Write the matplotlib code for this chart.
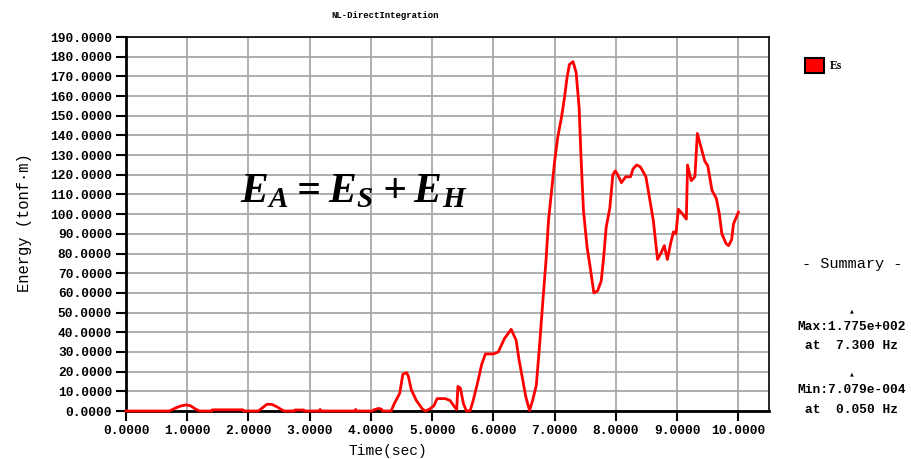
import matplotlib
matplotlib.use('Agg')
import matplotlib.pyplot as plt
from matplotlib.patches import Patch
import numpy as np

# values
time = [0.00, 0.70, 0.75, 0.80, 0.90, 0.98, 1.05, 1.14, 1.20, 1.40, 1.41, 1.91, 1.92,
        2.16, 2.22, 2.30, 2.38, 2.46, 2.55, 2.58, 2.75, 2.76, 2.90, 2.91, 3.16, 3.17,
        3.18, 3.74, 3.75, 3.76, 4.02, 4.05, 4.12, 4.17, 4.19, 4.33, 4.38, 4.47, 4.52,
        4.58, 4.61, 4.66, 4.74, 4.84, 4.89, 4.96, 5.03, 5.08, 5.21, 5.29, 5.37, 5.40,
        5.42, 5.46, 5.51, 5.56, 5.62, 5.67, 5.74, 5.81, 5.87, 6.00, 6.08, 6.18, 6.29,
        6.37, 6.42, 6.48, 6.53, 6.59, 6.64, 6.70, 6.75, 6.81, 6.86, 6.90, 6.95, 7.00,
        7.05, 7.11, 7.16, 7.20, 7.24, 7.30, 7.35, 7.40, 7.43, 7.47, 7.53, 7.58, 7.64,
        7.70, 7.76, 7.80, 7.84, 7.90, 7.95, 7.99, 8.03, 8.09, 8.16, 8.24, 8.28, 8.34,
        8.40, 8.49, 8.55, 8.61, 8.68, 8.74, 8.79, 8.84, 8.90, 8.94, 8.98, 9.02, 9.09,
        9.15, 9.16, 9.17, 9.23, 9.29, 9.33, 9.39, 9.45, 9.50, 9.57, 9.64, 9.69, 9.73,
        9.80, 9.84, 9.89, 9.92, 10.00]
energy = [0, 0, 0.6, 1.4, 2.6, 3.1, 2.7, 0.9, 0, 0, 0.6, 0.6, 0,
          0, 1.4, 3.4, 3.4, 2.2, 0.5, 0, 0, 0.5, 0.5, 0, 0, 0.8,
          0, 0, 0.8, 0, 0, 0.6, 1.3, 1.0, 0, 0, 3.7, 9, 18.6,
          19.5, 17.7, 10.7, 5.4, 1.0, 0, 1.0, 2.8, 6.3, 6.3, 5.4, 1.9, 0.7,
          12.5, 11.6, 3.7, 0, 0.2, 5.4, 14.2, 23.9, 29, 29, 30, 36.8, 41.5,
          36, 25.8, 15.6, 7, 0.3, 5.4, 13, 32, 57, 77, 97, 112, 127,
          139, 149, 159, 169, 176, 177.5, 172, 154, 129, 102, 83, 73, 60,
          61, 66, 78, 93, 103, 120, 122, 120, 116, 119, 119, 123, 125,
          124, 119, 108, 97, 77, 80.5, 84, 77, 86, 91, 90, 102.5, 100,
          97.5, 112, 125, 117, 119, 141, 134, 127, 124.6, 112, 108, 100, 90,
          85, 84, 87, 95, 101]

x_ticks = list(range(0, 11))
y_ticks = list(range(0, 200, 10))

mono = 'Liberation Mono'
plt.rcParams['mathtext.fontset'] = 'custom'
plt.rcParams['mathtext.bf'] = 'Liberation Serif:italic:bold'
plt.rcParams['mathtext.rm'] = 'Liberation Serif:bold'

fig = plt.figure(figsize=(9.12, 4.59), dpi=100)
ax = fig.add_axes([126 / 912, 1 - 411 / 459, (769 - 126) / 912, (411 - 37) / 459])

ax.plot(time, energy, color='#ff0000', lw=2, zorder=3, clip_on=False)

ax.set_xlim(0, 10.5)
ax.set_ylim(0, 190)
ax.set_xticks(x_ticks)
ax.set_yticks(y_ticks)
ax.set_xticklabels(['%.4f' % v for v in x_ticks], fontfamily=mono, fontsize=9.3, fontweight='bold')
ax.set_yticklabels(['%.4f' % v for v in y_ticks], fontfamily=mono, fontsize=9.3, fontweight='bold')
ax.tick_params(direction='out', length=7, width=1.5, color='black', pad=3)
ax.grid(True, color='#a8a8a8', lw=1.3, zorder=0)
ax.set_axisbelow(True)
for s in ax.spines.values():
    s.set_color('black')
    s.set_linewidth(1.2)
ax.spines['left'].set_linewidth(2)
ax.spines['bottom'].set_linewidth(2)
ax.spines['bottom'].set_zorder(2.5)

fig.text(385 / 912, 1 - 15 / 459, 'NL-DirectIntegration', fontfamily=mono, fontsize=6.5,
         fontweight='bold', ha='center', va='center')
fig.text(388 / 912, 1 - 451 / 459, 'Time(sec)', fontfamily=mono, fontsize=10.5,
         ha='center', va='center')
fig.text(25 / 912, 1 - 223 / 459, 'Energy (tonf\u00b7m)', fontfamily=mono, fontsize=11.2,
         ha='center', va='center', rotation=90)

# formula
fig.text(240 / 912, 1 - 202 / 459, r'$\mathbf{E_A = E_S + E_H}$', fontsize=30,
         ha='left', va='baseline')

# legend
fig.legend(handles=[Patch(facecolor='#ff0000', edgecolor='black', lw=1.5, label='Es')],
           loc='upper left', bbox_to_anchor=(794 / 912, 1 - 47 / 459), frameon=False,
           handlelength=1.6, handleheight=1.6, handletextpad=0.5,
           prop={'family': 'Liberation Serif', 'size': 8.5, 'weight': 'bold'})

# summary box
fig.text(852 / 912, 1 - 264 / 459, '- Summary -', fontfamily=mono, fontsize=11,
         ha='center', va='center')
summary = ['Max:1.775e+002', 'at  7.300 Hz', 'Min:7.079e-004', 'at  0.050 Hz']
ys = [327, 346, 390, 410]
for txt, y in zip(summary, ys):
    fig.text(852 / 912, 1 - y / 459, txt, fontfamily=mono, fontsize=9.3,
             fontweight='bold', ha='center', va='center')
for y in [311, 374]:
    fig.text(852 / 912, 1 - y / 459, '\u25b2', fontsize=3.5, ha='center', va='center')

fig.savefig('out.png', dpi=100)
